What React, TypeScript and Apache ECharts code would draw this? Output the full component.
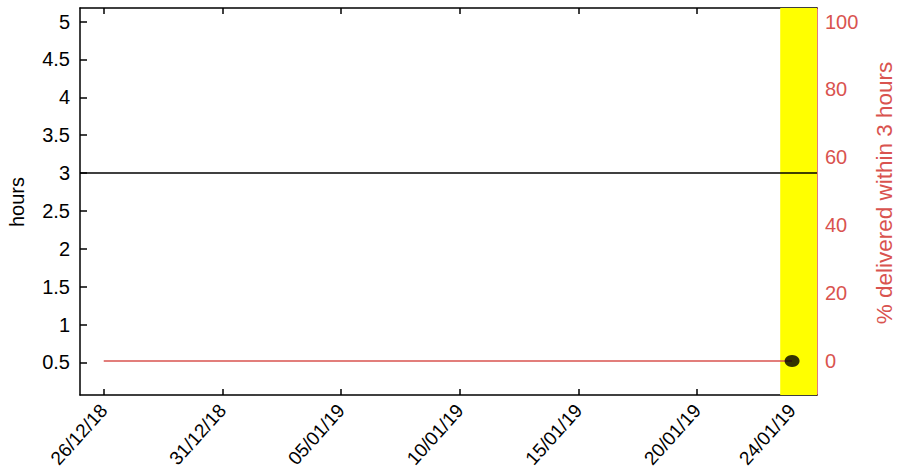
import React, { useEffect, useRef } from "react";
import * as echarts from "echarts";

const DAY = 86400000;
const tickDates = ["2018-12-26", "2018-12-31", "2019-01-05", "2019-01-10", "2019-01-15", "2019-01-20", "2019-01-24"];
const pctDates = ["2018-12-26", "2019-01-24"];
const pctValues = [0, 0];
const dotDates = ["2019-01-24"];
const dotValues = [0];
const thresholdHours = 3;
const highlightStart = "2019-01-23T12:00:00Z";
const hoursTicks = [0.5, 1, 1.5, 2, 2.5, 3, 3.5, 4, 4.5, 5];
const pctTicks = [0, 20, 40, 60, 80, 100];

const ts = (s: string) => (s.length === 10 ? Date.parse(s + "T00:00:00Z") : Date.parse(s));
const fmt = (v: number) => {
  const d = new Date(Math.round(v / DAY) * DAY);
  const p = (n: number) => String(n).padStart(2, "0");
  return `${p(d.getUTCDate())}/${p(d.getUTCMonth() + 1)}/${p(d.getUTCFullYear() % 100)}`;
};

const X_MIN = ts("2018-12-26") - 1.0 * DAY;
const X_MAX = ts("2019-01-24") + 1.05 * DAY;
const FONT = "Liberation Sans";
const RED = "#d9534f";

export default function App() {
  const ref = useRef<HTMLDivElement>(null);
  useEffect(() => {
    if (!ref.current) return;
    const chart = echarts.init(ref.current, null, { renderer: "svg" });
    const tickVals = tickDates.map(ts);
    chart.setOption({
      animation: false,
      backgroundColor: "#ffffff",
      textStyle: { fontFamily: FONT },
      grid: { left: 80, right: 80, top: 8, bottom: 77, containLabel: false, outerBoundsMode: "none" },
      xAxis: [
        {
          type: "value",
          min: X_MIN,
          max: X_MAX,
          position: "bottom",
          splitLine: { show: false },
          axisLine: { onZero: false, lineStyle: { color: "#000", width: 1.5 } },
          axisTick: { inside: true, length: 6, customValues: tickVals, lineStyle: { color: "#000", width: 1.5 } },
          axisLabel: {
            customValues: tickVals,
            formatter: (v: number) => fmt(v),
            rotate: 48,
            fontSize: 19,
            color: "#000",
            fontFamily: FONT,
            margin: 12,
          },
        },
        {
          type: "value",
          min: X_MIN,
          max: X_MAX,
          position: "top",
          splitLine: { show: false },
          axisLine: { onZero: false, lineStyle: { color: "#000", width: 1.5 } },
          axisTick: { inside: true, length: 6, customValues: tickVals, lineStyle: { color: "#000", width: 1.5 } },
          axisLabel: { show: false },
        },
      ],
      yAxis: [
        {
          type: "value",
          min: 0.07,
          max: 5.18,
          position: "left",
          splitLine: { show: false },
          axisLine: { show: true, onZero: false, lineStyle: { color: "#000", width: 1.5 } },
          axisTick: { inside: true, length: 7, customValues: hoursTicks, lineStyle: { color: "#000", width: 1.5 } },
          axisLabel: { customValues: hoursTicks, fontSize: 20, color: "#000", fontFamily: FONT, margin: 10 },
        },
        {
          type: "value",
          min: -10,
          max: 104,
          position: "right",
          splitLine: { show: false },
          axisLine: { show: true, onZero: false, lineStyle: { color: RED, width: 1.5 } },
          axisTick: { inside: true, length: 6, customValues: pctTicks, lineStyle: { color: RED, width: 1.5 } },
          axisLabel: { customValues: pctTicks, fontSize: 20, color: RED, fontFamily: FONT, margin: 8 },
        },
      ],
      graphic: [
        {
          type: "text",
          x: 17,
          y: 202,
          rotation: Math.PI / 2,
          style: { text: "hours", fontSize: 20, fill: "#000", fontFamily: FONT, align: "center", verticalAlign: "middle" },
        },
        {
          type: "text",
          x: 884,
          y: 193,
          rotation: Math.PI / 2,
          style: {
            text: "% delivered within 3 hours",
            fontSize: 22.5,
            fill: RED,
            fontFamily: FONT,
            align: "center",
            verticalAlign: "middle",
          },
        },
      ],
      series: [
        {
          name: "threshold",
          type: "line",
          xAxisIndex: 0,
          yAxisIndex: 0,
          data: [
            [X_MIN, thresholdHours],
            [X_MAX, thresholdHours],
          ],
          symbol: "none",
          lineStyle: { color: "#000", width: 1.5 },
          z: 3,
          markArea: {
            silent: true,
            itemStyle: { color: "#ffff00" },
            data: [[{ xAxis: ts(highlightStart) }, { xAxis: X_MAX }]],
          },
        },
        {
          name: "pct",
          type: "line",
          xAxisIndex: 0,
          yAxisIndex: 1,
          data: pctDates.map((d, i) => [ts(d), pctValues[i]]),
          symbol: "none",
          lineStyle: { color: RED, width: 1.5 },
          z: 4,
        },
        {
          name: "latest",
          type: "scatter",
          xAxisIndex: 0,
          yAxisIndex: 1,
          data: dotDates.map((d, i) => [ts(d), dotValues[i]]),
          symbol: "circle",
          symbolSize: [15, 12],
          itemStyle: { color: "#000" },
          z: 5,
        },
      ],
    });
    return () => chart.dispose();
  }, []);
  return <div ref={ref} style={{ position: "fixed", left: 0, top: 0, width: 897, height: 472, background: "#fff" }} />;
}
